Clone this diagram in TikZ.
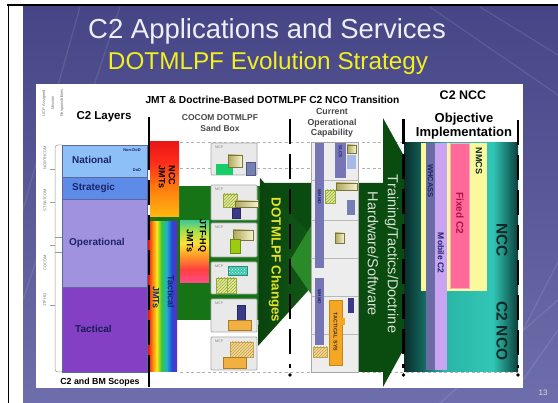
\documentclass[tikz,border=0pt]{standalone}
\usepackage{fontspec}
\setmainfont{Liberation Sans}
\usetikzlibrary{patterns}

% ---------- colours ----------
\definecolor{bgTop}{HTML}{464686}
\definecolor{bgBot}{HTML}{6E6EAC}
\definecolor{titleW}{HTML}{EEEEF4}
\definecolor{titleY}{HTML}{F2F01E}
\definecolor{natBlue}{HTML}{8CC0F6}
\definecolor{strBlue}{HTML}{5C8CE8}
\definecolor{opLav}{HTML}{A192E0}
\definecolor{tacPur}{HTML}{8440C4}
\definecolor{navyTxt}{HTML}{1C2468}
\definecolor{greenBody}{HTML}{167416}
\definecolor{greenHeadL}{HTML}{0A420E}
\definecolor{greenHeadR}{HTML}{15621A}
\definecolor{greenTwo}{HTML}{0A4C10}
\definecolor{greenKite}{HTML}{2A8A2A}
\definecolor{changeY}{HTML}{E2E22A}
\definecolor{trainTxt}{HTML}{D6E2D6}
\definecolor{mcpFill}{HTML}{E9E9E9}
\definecolor{mcpLine}{HTML}{A8A8A8}
\definecolor{goldD}{HTML}{AFA65A}
\definecolor{goldL}{HTML}{F6F4CF}
\definecolor{mintG}{HTML}{18CC6A}
\definecolor{slate}{HTML}{7480B4}
\definecolor{hatchFill}{HTML}{E2EC9C}
\definecolor{hatchLine}{HTML}{98A838}
\definecolor{limeG}{HTML}{9CCB10}
\definecolor{checkT}{HTML}{38C8AC}
\definecolor{deepNavy}{HTML}{3A3A88}
\definecolor{orangeB}{HTML}{F2B040}
\definecolor{tanFill}{HTML}{F0D890}
\definecolor{tanLine}{HTML}{C8A050}
\definecolor{barSlate}{HTML}{7676B6}
\definecolor{lightBlueSq}{HTML}{A8B8E4}
\definecolor{tacOrange}{HTML}{F5A623}
\definecolor{paleY}{HTML}{FAFA9C}
\definecolor{pinkF}{HTML}{FF6A98}
\definecolor{fixedTxt}{HTML}{B0103E}
\definecolor{whcass}{HTML}{6C6CA4}
\definecolor{mobLav}{HTML}{C8A4F2}
\definecolor{tealD}{HTML}{0A2E2A}
\definecolor{tealM}{HTML}{13625B}
\definecolor{tealB}{HTML}{2AB6A6}
\definecolor{tealC}{HTML}{32C6B6}
\definecolor{tealE}{HTML}{0B3F3A}
\definecolor{nccTxt}{HTML}{0B2A28}
\definecolor{rbR}{HTML}{E81010}
\definecolor{rbO}{HTML}{FF8A10}
\definecolor{rbY}{HTML}{FFE818}
\definecolor{rbG}{HTML}{38C838}
\definecolor{rbC}{HTML}{20B0D0}
\definecolor{rbB}{HTML}{2848D8}
\definecolor{rbV}{HTML}{6A2AC0}
\definecolor{jP}{HTML}{FF4D8A}
\definecolor{jR}{HTML}{FF4040}
\definecolor{jO}{HTML}{FF9A28}
\definecolor{jY}{HTML}{FFE038}
\definecolor{jG}{HTML}{A8E048}
\definecolor{jT}{HTML}{48C890}
\definecolor{nY}{HTML}{FFB810}
\definecolor{nO}{HTML}{FF7A10}
\definecolor{nR}{HTML}{FF2A1A}
\definecolor{nR2}{HTML}{E81818}

% ---------- shadings ----------
\pgfdeclarehorizontalshading{rainbowH}{100bp}{color(0bp)=(rbR); color(25bp)=(rbR); color(33bp)=(rbO); color(40bp)=(rbY); color(48bp)=(rbG); color(57bp)=(rbC); color(66bp)=(rbB); color(75bp)=(rbV); color(100bp)=(rbV)}
\pgfdeclareverticalshading{jtfS}{100bp}{color(0bp)=(jP); color(25bp)=(jP); color(36bp)=(jR); color(47bp)=(jO); color(57bp)=(jY); color(67bp)=(jG); color(75bp)=(jT); color(100bp)=(jT)}
\pgfdeclareverticalshading{nccS}{100bp}{color(0bp)=(nY); color(25bp)=(nY); color(45bp)=(nO); color(62bp)=(nR); color(75bp)=(nR2); color(100bp)=(nR2)}
\pgfdeclarehorizontalshading{tealS}{100bp}{color(0bp)=(tealD); color(25bp)=(tealD); color(33bp)=(tealM); color(43bp)=(tealB); color(64bp)=(tealC); color(75bp)=(tealE); color(100bp)=(tealE)}

\tikzset{
  fs/.style={font=\fontsize{#1}{#1}\selectfont},
  bfs/.style={font=\bfseries\fontsize{#1}{#1}\selectfont},
  layerbox/.style={draw=navyTxt!70, line width=0.5pt},
  layertxt/.style={anchor=west, inner sep=0pt, text=navyTxt, font=\bfseries\fontsize{10}{12}\selectfont},
  tinytxt/.style={inner sep=0pt, text=black!55, font=\fontsize{4}{9}\selectfont},
  mcpbox/.style={draw=mcpLine, fill=mcpFill, line width=0.8pt, rounded corners=1pt},
  mcplbl/.style={anchor=west, inner sep=0pt, text=black!50, font=\fontsize{3.6}{4}\selectfont},
  gold/.style={left color=goldD, right color=goldL, draw=goldD!70!black, line width=0.3pt},
  hatchbox/.style={preaction={fill=hatchFill}, pattern=north east lines, pattern color=hatchLine, draw=hatchLine, line width=0.3pt},
  tanbox/.style={preaction={fill=tanFill}, pattern=north east lines, pattern color=tanLine, draw=tanLine, line width=0.3pt},
  blackdash/.style={line width=2.6pt, dash pattern=on 25pt off 10pt},
  graydash/.style={draw=black!30, line width=0.7pt, dash pattern=on 3pt off 2.5pt},
  strip/.style={inner sep=0pt, rotate=-90},
}

\begin{document}
\begin{tikzpicture}[x=1pt, y=-1pt]
\useasboundingbox (0,0) rectangle (558,403);
\fill[white] (0,0) rectangle (558,403);

% slide frame and background
\shade[top color=bgTop, bottom color=bgBot] (23,7) rectangle (558,403);
\begin{scope}[white, opacity=0.10, line width=1.2pt]
  \draw (23,300) -- (120,7);
  \draw (23,210) -- (80,7);
  \draw (430,7) -- (558,95);
  \draw (480,7) -- (558,55);
  \draw (523,330) -- (558,262);
  \draw (523,380) -- (558,330);
  \draw (440,403) -- (558,300);
\end{scope}
\draw[black, line width=1.4pt] (7,5) -- (558,5);
\draw[black, line width=1.4pt] (8.5,5) -- (8.5,403);

% titles
\node[anchor=base, fs=27.5, text=titleW] (title) at (267,39) {C2 Applications and Services};
\node[anchor=base, fs=24.3, text=titleY] (subtitle) at (268,70) {DOTMLPF Evolution Strategy};

% white content panel
\fill[white] (36,84) rectangle (523,388);

% ---------- C2 layers ----------
\node[tinytxt, rotate=90, align=center] (ucp) at (53,103) {UCP Assigned\\Mission\\Responsibilities};
\node[tinytxt, rotate=90] (lbNorth) at (45,158) {NORTHCOM};
\node[tinytxt, rotate=90] (lbStrat) at (45,200) {STRATCOM};
\node[tinytxt, rotate=90] (lbCocom) at (45,263) {COCOM};
\node[tinytxt, rotate=90] (lbJtf) at (45,300) {JTF HQ};
\draw[black!40, line width=0.5pt, rounded corners=3pt] (62,145) -- (55,145) -- (55,372) -- (62,372);
\draw[black!40, line width=0.5pt] (55,169) -- (50,169) (55,202) -- (50,202) (62,237) -- (55,237) (55,245) -- (50,245) (62,252) -- (55,252) (55,305) -- (50,305);

\draw[layerbox, fill=natBlue] (62,145) rectangle (147,177);
\draw[layerbox, fill=strBlue] (62,177) rectangle (147,199);
\draw[layerbox, fill=opLav] (62,199) rectangle (147,287);
\draw[layerbox, fill=tacPur] (62,287) rectangle (147,372);
\node[layertxt] (natT) at (72,160) {National};
\node[layertxt] (strT) at (72,188) {Strategic};
\node[layertxt] (opT) at (69,243) {Operational};
\node[layertxt, text=navyTxt!80!black] (tacT) at (75,329) {Tactical};
\node[inner sep=0pt, text=navyTxt, font=\bfseries\fontsize{4}{4}\selectfont] (nonDod) at (132,150) {Non-DoD};
\node[inner sep=0pt, text=navyTxt, font=\bfseries\fontsize{4}{4}\selectfont] (dod) at (137,170) {DoD};

\node[bfs=11.5] (c2layers) at (104,117) {C2 Layers};
\node[bfs=8.8] (scopes) at (100,382) {C2 and BM Scopes};

% ---------- column headers ----------
\node[bfs=10.2] (hdr) at (272.5,100) {JMT \& Doctrine-Based DOTMLPF C2 NCO Transition};
\node[align=center, text=black!72, font=\bfseries\fontsize{8.5}{11}\selectfont] (sandbox) at (220,123.5) {COCOM DOTMLPF\\Sand Box};
\node[align=center, text=black!72, font=\bfseries\fontsize{8.8}{10.5}\selectfont] (current) at (332,123) {Current\\Operational\\Capability};
\node[bfs=12.5] (nccHead) at (463,95) {C2 NCC};
\node[align=center, font=\bfseries\fontsize{13}{14}\selectfont] (objective) at (464,126) {Objective\\Implementation};

% guide lines
\draw[graydash] (180,142) -- (403,142);
\draw[graydash] (180,168) -- (403,168);
\draw[graydash] (180,372) -- (518,372);

% ---------- green arrows ----------
\fill[greenTwo] (262,183) -- (383,183) -- (383,118) -- (457,252) -- (383,387) -- (383,372)
  -- (311,372) -- (311,262) -- (262,262) -- cycle;
\fill[greenBody] (150,186) rectangle (262,320);
\shade[left color=greenHeadL, right color=greenHeadR] (260,178) -- (334,262) -- (258,346) -- cycle;
\fill[greenKite] (289,262) -- (311,226) -- (311,294) -- cycle;
\node[strip, text=changeY, font=\bfseries\fontsize{13.3}{14}\selectfont] (changes) at (275,260) {DOTMLPF Changes};
\node[strip, align=center, text=trainTxt, font=\fontsize{14.5}{20}\selectfont] (training) at (383,254) {Training/Tactics/Doctrine\\Hardware/Software};

% ---------- JMT strips ----------
\shade[shading=nccS] (150,142) rectangle (179,217);
\node[strip, align=left, font=\bfseries\fontsize{9}{10}\selectfont] (nccJmt) at (167,177) {NCC\\JMTs};
\shade[shading=rainbowH] (148,222) rectangle (177,372);
\node[strip, align=right, text=navyTxt, font=\bfseries\fontsize{9}{15}\selectfont] (tacJmt) at (163.5,292) {Tactical\\JMTs};
\shade[shading=jtfS] (180,221) rectangle (209,283);
\node[strip, align=right, font=\bfseries\fontsize{9}{13}\selectfont] (jtfJmt) at (196.5,236) {JTF-HQ\\JMTs};

% ---------- COCOM sand box (MCP boxes) ----------
\draw[mcpbox] (211,143) rectangle (257,175);
\node[mcplbl] (mcp1) at (215,147) {MCP};
\fill[mintG] (216,164) rectangle (233,175);
\draw[gold] (228,155) rectangle (242,167);
\draw[fill=slate, draw=slate!70!black, line width=0.3pt] (246,162) rectangle (255,175);

\draw[mcpbox] (211,185) rectangle (257,220);
\node[mcplbl] (mcp2) at (215,189) {MCP};
\draw[hatchbox] (223,194) rectangle (237,207);
\draw[gold] (235,201) rectangle (258,207);
\draw[fill=deepNavy, draw=deepNavy!70!black, line width=0.3pt] (232,208) rectangle (240,218);

\draw[mcpbox] (211,223) rectangle (257,257);
\node[mcplbl] (mcp3) at (215,227) {MCP};
\draw[gold] (233,230) rectangle (253,240);
\draw[fill=limeG, draw=limeG!70!black, line width=0.3pt] (230,239) rectangle (240,253);

\draw[mcpbox] (211,262) rectangle (257,294);
\node[mcplbl] (mcp4) at (215,266) {MCP};
\draw[preaction={fill=checkT}, pattern=crosshatch dots, pattern color=white, draw=checkT!70!black, line width=0.3pt] (228,266) rectangle (247,275);
\draw[hatchbox] (216,278) rectangle (227,293);
\draw[hatchbox] (227,278) rectangle (236,293);

\draw[mcpbox] (211,299) rectangle (257,332);
\node[mcplbl] (mcp5) at (215,303) {MCP};
\draw[fill=deepNavy, draw=deepNavy!70!black, line width=0.3pt] (237,305) rectangle (245,320);
\draw[fill=orangeB, draw=orangeB!70!black, line width=0.3pt] (228,320) rectangle (251,330);

\draw[mcpbox] (211,337) rectangle (257,370);
\node[mcplbl] (mcp6) at (215,341) {MCP};
\draw[tanbox] (230,342) rectangle (253,357);
\draw[fill=orangeB, draw=orangeB!70!black, line width=0.3pt] (223,357) rectangle (246,368);

% ---------- current operational capability ----------
\draw[fill=black!7, draw=black!35, line width=0.6pt] (311,142) rectangle (358,372);
\foreach \yy in {180,220,258,296,334} \draw[black!28, line width=0.5pt] (311,\yy) -- (358,\yy);
\fill[barSlate] (315,143) rectangle (324,268);
\fill[barSlate] (315,278) rectangle (324,345);
\node[strip, text=navyTxt, font=\bfseries\fontsize{4.5}{5}\selectfont] (whmo1) at (319.5,197) {WHMO};
\node[strip, text=navyTxt, font=\bfseries\fontsize{4.5}{5}\selectfont] (whmo2) at (319.5,297) {WHMO};
\fill[barSlate] (335,143) rectangle (346,178);
\node[strip, text=navyTxt, font=\bfseries\fontsize{4.5}{5}\selectfont] (slcs) at (340.5,152) {SLCS};
\draw[gold] (347,145) rectangle (356,153);
\fill[lightBlueSq] (347,155) rectangle (356,169);
\draw[gold] (336,183) rectangle (357,190);
\draw[hatchbox] (325,190) rectangle (335,203);
\fill[slate] (347,200) rectangle (355,215);
\draw[gold] (335,233) rectangle (344,243);
\fill[deepNavy] (348,298) rectangle (354,313);
\draw[fill=tacOrange, draw=tacOrange!80!black, line width=0.3pt] (329,300) rectangle (342,365);
\fill[tacOrange] (342,318) rectangle (345,325);
\node[strip, text=black!80, font=\bfseries\fontsize{5.3}{6}\selectfont] (tacsys) at (335.5,332) {TACTICAL SYS};
\draw[tanbox] (313,347) rectangle (327,357);

% ---------- C2 NCC objective implementation ----------
\shade[shading=tealS] (404,143) rectangle (518,372);
\fill[paleY] (421,143) rectangle (487,291);
\fill[whcass] (426,143) rectangle (435,370);
\fill[mobLav] (435,143) rectangle (447,370);
\draw[fill=pinkF, draw=pinkF!55!white, line width=0.8pt] (450,143) rectangle (469,288);
\node[strip, text=navyTxt, font=\bfseries\fontsize{7.5}{8}\selectfont] (whcassT) at (430.5,181) {WHCASS};
\node[strip, text=navyTxt, font=\bfseries\fontsize{8.5}{9}\selectfont] (mobileT) at (441,253) {Mobile C2};
\node[strip, text=fixedTxt, font=\bfseries\fontsize{10}{10}\selectfont] (fixedT) at (460,213) {Fixed C2};
\node[strip, text=nccTxt, font=\bfseries\fontsize{9}{9}\selectfont] (nmcsT) at (479,161) {NMCS};
\node[strip, text=nccTxt, font=\bfseries\fontsize{15.5}{16}\selectfont] (nccT) at (502,240) {NCC};
\node[strip, text=nccTxt, font=\bfseries\fontsize{15.5}{16}\selectfont] (nccoT) at (502,331) {C2 NCO};

% ---------- phase boundaries ----------
\draw[line width=2.6pt] (149,117) -- (149,145);
\draw[blackdash] (149,145) -- (149,372);
\draw[line width=2.6pt] (149,372) -- (149,387);
\draw[blackdash] (290,119) -- (290,368);
\draw[blackdash] (403.5,119) -- (403.5,368);
\draw[blackdash] (518,120) -- (518,368);
\fill (290,375) circle (1.8);
\fill (403.5,375) circle (1.8);
\fill (518,375) circle (1.8);

% page number
\node[fs=8, text=white!75!bgBot] (pageno) at (543,393) {13};
\end{tikzpicture}
\end{document}
